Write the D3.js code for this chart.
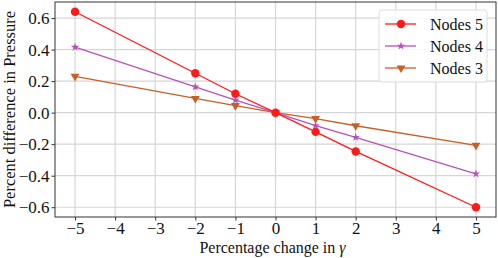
<!DOCTYPE html>
<html>
<head>
<meta charset="utf-8">
<script src="https://cdn.jsdelivr.net/npm/d3@7"></script>
<style>
  body { margin: 0; background: white; }
</style>
</head>
<body>
<div class="content"></div>
<script>
const width = 498
const height = 258
const margin = {top: 2, right: 2, bottom: 41, left: 55}
const serif = 'Liberation Serif'

const xValues = [-5, -2, -1, 0, 1, 2, 5]
const nodes5 = [0.64, 0.25, 0.12, 0.0, -0.122, -0.246, -0.60]
const nodes4 = [0.415, 0.163, 0.08, 0.0, -0.082, -0.157, -0.388]
const nodes3 = [0.23, 0.09, 0.045, 0.0, -0.038, -0.083, -0.207]
const xTicks = [-5, -4, -3, -2, -1, 0, 1, 2, 3, 4, 5]
const yTicks = [-0.6, -0.4, -0.2, 0.0, 0.2, 0.4, 0.6]

const series = [
    {name: 'Nodes 5', values: nodes5, color: '#ff1a1a', marker: 'circle'},
    {name: 'Nodes 4', values: nodes4, color: '#b552b8', marker: 'star'},
    {name: 'Nodes 3', values: nodes3, color: '#c65f28', marker: 'triangle'}
]

const svg = d3.select('div.content')
    .append('svg')
    .attr('width', width)
    .attr('height', height)
    .attr('font-family', serif)

const x = d3.scaleLinear().domain([-5.5, 5.5]).range([margin.left, width - margin.right])
const y = d3.scaleLinear().domain([-0.662, 0.702]).range([height - margin.bottom, margin.top])

// grid
svg.append('g')
    .selectAll('line.vgrid')
    .data(xTicks)
    .join('line')
    .attr('x1', d => x(d)).attr('x2', d => x(d))
    .attr('y1', y.range()[1]).attr('y2', y.range()[0])
    .attr('stroke', '#d6d6d6').attr('stroke-width', 1.2)
svg.append('g')
    .selectAll('line.hgrid')
    .data(yTicks)
    .join('line')
    .attr('y1', d => y(d)).attr('y2', d => y(d))
    .attr('x1', x.range()[0]).attr('x2', x.range()[1])
    .attr('stroke', '#d6d6d6').attr('stroke-width', 1.2)

// axes
const fmtY = d => d3.format('.1f')(d).replace('-', '\u2212')
const fmtX = d => String(d).replace('-', '\u2212')

const xAxis = svg.append('g')
    .attr('transform', `translate(0, ${height - margin.bottom})`)
    .call(d3.axisBottom(x).tickValues(xTicks).tickFormat(fmtX).tickSize(3.5).tickPadding(1.5))
const yAxis = svg.append('g')
    .attr('transform', `translate(${margin.left}, 0)`)
    .call(d3.axisLeft(y).tickValues(yTicks).tickFormat(fmtY).tickSize(3.5).tickPadding(2))
for (let ax of [xAxis, yAxis]) {
    ax.attr('font-family', serif).attr('font-size', 17)
    ax.select('.domain').remove()
    ax.selectAll('text').attr('fill', '#111').attr('font-family', serif)
    ax.selectAll('line').attr('stroke', '#333')
}

// frame
svg.append('rect')
    .attr('x', x.range()[0]).attr('y', y.range()[1])
    .attr('width', x.range()[1] - x.range()[0])
    .attr('height', y.range()[0] - y.range()[1])
    .attr('fill', 'none').attr('stroke', '#333').attr('stroke-width', 1)

// axis titles
const xTitle = svg.append('text')
    .attr('x', x(0) - 3).attr('y', height - 5.5)
    .attr('text-anchor', 'middle').attr('font-size', 16).attr('fill', '#111')
    .attr('font-family', serif)
xTitle.append('tspan').text('Percentage change in ')
xTitle.append('tspan').attr('font-style', 'italic').text('\u03b3')

svg.append('text')
    .attr('transform', `translate(14.5, ${(y.range()[0] + y.range()[1]) / 2}) rotate(-90)`)
    .attr('text-anchor', 'middle').attr('font-size', 16.5).attr('fill', '#111')
    .attr('font-family', serif)
    .text('Percent difference in Pressure')

const symbols = {
    circle: d3.symbol().type(d3.symbolCircle).size(56),
    star: d3.symbol().type(d3.symbolStar).size(22),
    triangle: d3.symbol().type(d3.symbolTriangle).size(34)
}

function drawMarker(g, s, cx, cy) {
    g.append('path')
        .attr('d', symbols[s.marker]())
        .attr('transform', `translate(${cx}, ${cy})` + (s.marker === 'triangle' ? ' rotate(180)' : ''))
        .attr('fill', s.color)
}

const line = d3.line().x((d, i) => x(xValues[i])).y(d => y(d))

// draw in reverse order so Nodes 5 sits on top
for (let s of series.slice().reverse()) {
    svg.append('path')
        .datum(s.values)
        .attr('d', line)
        .attr('fill', 'none')
        .attr('stroke', s.color)
        .attr('stroke-width', 1.3)
    const g = svg.append('g')
    s.values.forEach((v, i) => drawMarker(g, s, x(xValues[i]), y(v)))
}

// legend
const legend = svg.append('g').attr('transform', 'translate(379, 10)')
legend.append('rect')
    .attr('width', 108).attr('height', 72)
    .attr('rx', 3)
    .attr('fill', 'white').attr('fill-opacity', 0.85)
    .attr('stroke', '#dcdcdc')
series.forEach((s, i) => {
    const ly = 14 + i * 22
    legend.append('line')
        .attr('x1', 6).attr('x2', 37).attr('y1', ly).attr('y2', ly)
        .attr('stroke', s.color).attr('stroke-width', 1.3)
    drawMarker(legend, s, 22, ly)
    legend.append('text')
        .attr('x', 51).attr('y', ly + 5.5)
        .attr('font-size', 16).attr('fill', '#111')
        .attr('font-family', serif)
        .text(s.name)
})
</script>
</body>
</html>
